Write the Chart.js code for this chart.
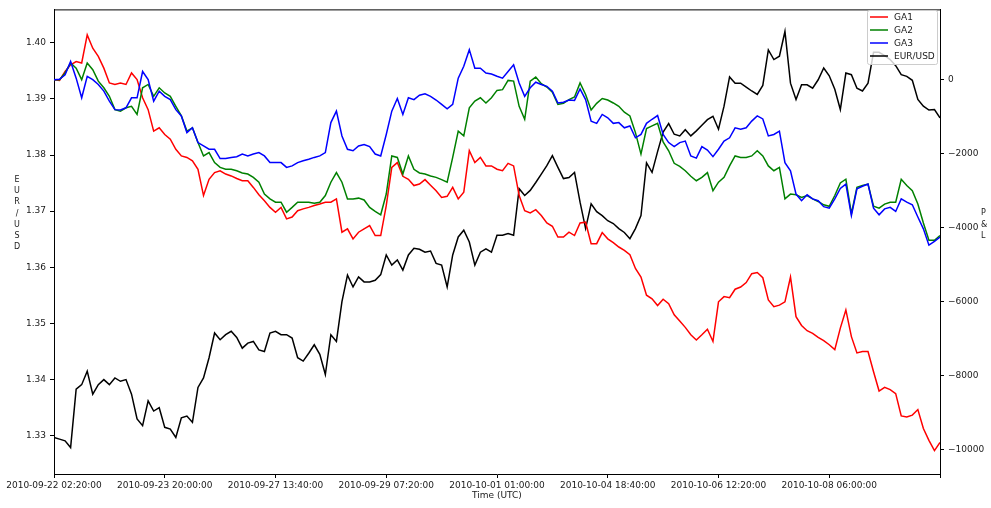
<!DOCTYPE html>
<html>
<head>
<meta charset="utf-8">
<script src="https://cdn.jsdelivr.net/npm/chart.js@4.4.1/dist/chart.umd.min.js"></script>
<style>
  body { margin: 0; background: #fff; }
</style>
</head>
<body>
<canvas id="pnlChart" width="991" height="508"></canvas>
<script>
  // x axis: one point per index, a labelled tick every 20 points
  const tickLabels = [
    "2010-09-22 02:20:00", "2010-09-23 20:00:00", "2010-09-27 13:40:00",
    "2010-09-29 07:20:00", "2010-10-01 01:00:00", "2010-10-04 18:40:00",
    "2010-10-06 12:20:00", "2010-10-08 06:00:00", ""
  ];
  const rateTicks = [1.33, 1.34, 1.35, 1.36, 1.37, 1.38, 1.39, 1.40];
  const pnlTicks = [-10000, -8000, -6000, -4000, -2000, 0];

  // P&L series (right axis)
  const ga1 = [
    0, -20, 220, 400, 490, 450, 1210, 850, 630, 310,
    -90, -130, -90, -130, 180, 0, -490, -810, -1390, -1300,
    -1480, -1610, -1880, -2060, -2100, -2190, -2420, -3130, -2690, -2510,
    -2460, -2550, -2600, -2670, -2730, -2730, -2910, -3110, -3270, -3450,
    -3580, -3450, -3760, -3710, -3540, -3490, -3450, -3400, -3360, -3310,
    -3310, -3220, -4120, -4030, -4300, -4120, -4030, -3940, -4210, -4210,
    -3400, -2370, -2240, -2610, -2690, -2860, -2820, -2700, -2850, -3000,
    -3180, -3150, -2910, -3220, -3040, -1920, -2240, -2100, -2330, -2330,
    -2420, -2460, -2260, -2330, -3130, -3540, -3600, -3510, -3670, -3870,
    -3960, -4250, -4250, -4120, -4210, -3870, -3850, -4430, -4430, -4130,
    -4300, -4400, -4520, -4610, -4730, -5100, -5330, -5820, -5920, -6100,
    -5930, -6050, -6350, -6520, -6690, -6890, -7030, -6890, -6740, -7070,
    -6000, -5860, -5890, -5660, -5600, -5480, -5240, -5210, -5350, -5950,
    -6130, -6090, -6000, -5330, -6400, -6640, -6780, -6850, -6960, -7050,
    -7160, -7290, -6710, -6220, -6940, -7380, -7340, -7340, -7890, -8410,
    -8310, -8370, -8480, -9080, -9110, -9060, -8910, -9420, -9740, -10020, -9800
  ];
  const ga2 = [
    0, 0, 180, 450, 310, 0, 450, 270, -40, -220,
    -450, -810, -850, -760, -720, -940, -220, -130, -450, -220,
    -360, -450, -720, -980, -1390, -1300, -1700, -2060, -1970, -2240,
    -2370, -2420, -2420, -2460, -2520, -2550, -2640, -2770, -3090, -3220,
    -3310, -3310, -3580, -3450, -3310, -3310, -3310, -3340, -3310, -3130,
    -2770, -2510, -2770, -3220, -3220, -3200, -3250, -3450, -3560, -3650,
    -3090, -2060, -2100, -2550, -2060, -2420, -2520, -2550, -2600, -2640,
    -2700, -2770, -2100, -1390, -1520, -760, -580, -490, -630, -490,
    -290, -270, -20, -40, -720, -1070, -40, 70, -110, -200,
    -340, -670, -640, -540, -470, -90, -400, -820, -640, -510,
    -550, -630, -720, -880, -980, -1430, -2010, -1320, -1250, -1180,
    -1680, -1920, -2260, -2340, -2460, -2610, -2730, -2640, -2510, -3000,
    -2770, -2640, -2330, -2060, -2100, -2100, -2060, -1920, -2060, -2330,
    -2460, -2370, -3220, -3090, -3110, -3180, -3130, -3220, -3290, -3380,
    -3420, -3130, -2790, -2690, -3620, -2910, -2860, -2820, -3420, -3470,
    -3360, -3310, -3310, -2690, -2860, -3000, -3360, -3870, -4340, -4340, -4210
  ];
  const ga3 = [
    0, 10, 130, 490, 40, -490, 90, 0, -130, -310,
    -580, -810, -820, -760, -490, -490, 220, 0, -580, -310,
    -450, -540, -810, -980, -1430, -1300, -1700, -1790, -1880, -1880,
    -2130, -2130, -2100, -2080, -2010, -2060, -2010, -1970, -2060, -2240,
    -2240, -2240, -2370, -2330, -2240, -2190, -2150, -2100, -2060, -1970,
    -1160, -850, -1520, -1880, -1920, -1790, -1750, -1810, -2010, -2060,
    -1480, -850, -510, -940, -490, -540, -420, -380, -450, -550,
    -670, -790, -670, 40, 360, 810, 310, 310, 180, 150,
    90, 40, 220, 400, -90, -450, -220, -70, -130, -180,
    -310, -630, -610, -550, -560, -250, -540, -1120, -1180, -940,
    -1030, -1180, -1160, -1300, -1250, -1570, -1480, -1180, -1070, -970,
    -1480, -1700, -1810, -1700, -1660, -2060, -2120, -1810, -1900, -2080,
    -1880, -1660, -1570, -1300, -1340, -1300, -1120, -980, -1060, -1520,
    -1480, -1390, -2240, -2460, -3090, -3270, -3110, -3220, -3270, -3430,
    -3470, -3220, -2940, -2820, -3670, -2950, -2880, -2820, -3470, -3650,
    -3490, -3450, -3560, -3220, -3310, -3380, -3710, -4030, -4470, -4370, -4250
  ];

  // EUR/USD rate (left axis)
  const eurusd = [
    1.3297, 1.3294, 1.3291, 1.3279, 1.3383, 1.3391, 1.3415, 1.3374, 1.3391, 1.3400,
    1.3391, 1.3403, 1.3397, 1.3400, 1.3374, 1.3330, 1.3318, 1.3362, 1.3344, 1.3350,
    1.3315, 1.3312, 1.3297, 1.3332, 1.3335, 1.3324, 1.3386, 1.3403, 1.3439, 1.3483,
    1.3471, 1.3480, 1.3486, 1.3475, 1.3456, 1.3465, 1.3468, 1.3453, 1.3450, 1.3483,
    1.3486, 1.3480, 1.3480, 1.3474, 1.3439, 1.3433, 1.3447, 1.3462, 1.3445, 1.3409,
    1.3480, 1.3468, 1.3539, 1.3586, 1.3565, 1.3583, 1.3574, 1.3574, 1.3577, 1.3587,
    1.3622, 1.3604, 1.3613, 1.3595, 1.3622, 1.3634, 1.3632, 1.3627, 1.3629, 1.3607,
    1.3604, 1.3565, 1.3622, 1.3654, 1.3666, 1.3645, 1.3604, 1.3627, 1.3633, 1.3627,
    1.3657, 1.3657, 1.3660, 1.3657, 1.3740, 1.3728, 1.3737, 1.3751, 1.3766, 1.3781,
    1.3799, 1.3778, 1.3758, 1.3760, 1.3769, 1.3716, 1.3669, 1.3713, 1.3699, 1.3692,
    1.3683, 1.3678, 1.3669, 1.3662, 1.3651, 1.3669, 1.3692, 1.3786, 1.3769, 1.3806,
    1.3841, 1.3856, 1.3837, 1.3834, 1.3845, 1.3834, 1.3843, 1.3853, 1.3863, 1.3869,
    1.3846, 1.3887, 1.3939, 1.3928, 1.3928, 1.3921, 1.3914, 1.3908, 1.3924, 1.3987,
    1.3970, 1.3976, 1.4020, 1.3928, 1.3899, 1.3925, 1.3925, 1.3919, 1.3934, 1.3955,
    1.3941, 1.3917, 1.3881, 1.3946, 1.3943, 1.3919, 1.3914, 1.3928, 1.3983, 1.3983,
    1.3977, 1.3970, 1.3959, 1.3943, 1.3940, 1.3933, 1.3899, 1.3887, 1.3880, 1.3881, 1.3866
  ];

  const FONT = "DejaVu Sans";
  const TEXT = "#1a1a1a";

  function toPoints(arr) {
    return arr.map((v, i) => ({ x: i, y: v }));
  }

  // matplotlib-like frame, stacked axis titles and legend box
  const decorations = {
    id: "decorations",
    afterDraw(chart) {
      const ctx = chart.ctx;
      const a = chart.chartArea;
      ctx.save();

      ctx.strokeStyle = "#000";
      ctx.lineWidth = 1;
      ctx.beginPath();
      ctx.moveTo(a.left, a.top + 0.5);
      ctx.lineTo(a.right, a.top + 0.5);
      ctx.stroke();

      ctx.fillStyle = TEXT;
      ctx.font = "8px '" + FONT + "'";
      ctx.textBaseline = "middle";
      ctx.textAlign = "center";
      "EUR/USD".split("").forEach((ch, i) => ctx.fillText(ch, 17, 180 + i * 11.2));
      ctx.textAlign = "left";
      "P&L".split("").forEach((ch, i) => ctx.fillText(ch, 981, 213 + i * 11.5));

      ctx.font = "9px '" + FONT + "'";
      ctx.textAlign = "center";
      ctx.fillText("Time (UTC)", (a.left + a.right) / 2, 495.5);

      // legend
      const bx = 867, by = 10, bw = 70, bh = 54;
      ctx.fillStyle = "rgba(255,255,255,0.8)";
      ctx.strokeStyle = "#cccccc";
      ctx.beginPath();
      ctx.roundRect(bx + 0.5, by + 0.5, bw, bh, 2);
      ctx.fill();
      ctx.stroke();
      ctx.textAlign = "left";
      chart.data.datasets.forEach((ds, i) => {
        const y = 17 + i * 13;
        ctx.strokeStyle = ds.borderColor;
        ctx.lineWidth = 1.5;
        ctx.beginPath();
        ctx.moveTo(870, y);
        ctx.lineTo(888, y);
        ctx.stroke();
        ctx.fillStyle = TEXT;
        ctx.fillText(ds.label, 894, y + 0.5);
      });
      ctx.restore();
    }
  };

  function line(label, data, color, axis, order) {
    return {
      label: label,
      data: toPoints(data),
      borderColor: color,
      borderWidth: 1.5,
      pointRadius: 0,
      tension: 0,
      yAxisID: axis,
      order: order
    };
  }

  new Chart(document.getElementById("pnlChart").getContext("2d"), {
    type: "line",
    data: {
      datasets: [
        line("GA1", ga1, "#ff0000", "pnl", 3),
        line("GA2", ga2, "#008000", "pnl", 2),
        line("GA3", ga3, "#0000ff", "pnl", 1),
        line("EUR/USD", eurusd, "#000000", "rate", 4)
      ]
    },
    options: {
      responsive: false,
      animation: false,
      devicePixelRatio: 1,
      layout: { padding: { top: 6, left: 0, right: 0, bottom: 0 } },
      plugins: { legend: { display: false }, tooltip: { enabled: false } },
      scales: {
        x: {
          type: "linear",
          min: 0,
          max: 160,
          afterFit: (s) => { s.height = 34; },
          afterBuildTicks: (s) => {
            s.ticks = tickLabels.map((t, i) => ({ value: i * 20 }));
          },
          grid: { drawOnChartArea: false, tickLength: 4, color: "#000" },
          border: { color: "#000" },
          ticks: {
            autoSkip: false,
            maxRotation: 0,
            padding: 2,
            color: TEXT,
            font: { family: FONT, size: 9 },
            callback: (v) => tickLabels[v / 20] ?? ""
          }
        },
        rate: {
          position: "left",
          min: 1.32319,
          max: 1.40593,
          afterFit: (s) => { s.width = 54; },
          afterBuildTicks: (s) => {
            s.ticks = rateTicks.map((v) => ({ value: v }));
          },
          grid: { drawOnChartArea: false, tickLength: 4, color: "#000" },
          border: { color: "#000" },
          ticks: {
            padding: 4,
            color: TEXT,
            font: { family: FONT, size: 9 },
            callback: (v) => v.toFixed(2)
          }
        },
        pnl: {
          position: "right",
          min: -10650,
          max: 1897,
          afterFit: (s) => { s.width = 51; },
          afterBuildTicks: (s) => {
            s.ticks = pnlTicks.map((v) => ({ value: v }));
          },
          grid: { drawOnChartArea: false, tickLength: 4, color: "#000" },
          border: { color: "#000" },
          ticks: {
            padding: 4,
            color: TEXT,
            font: { family: FONT, size: 9 },
            callback: (v) => (v < 0 ? "\u2212" + Math.abs(v) : String(v))
          }
        }
      }
    },
    plugins: [decorations]
  });
</script>
</body>
</html>
